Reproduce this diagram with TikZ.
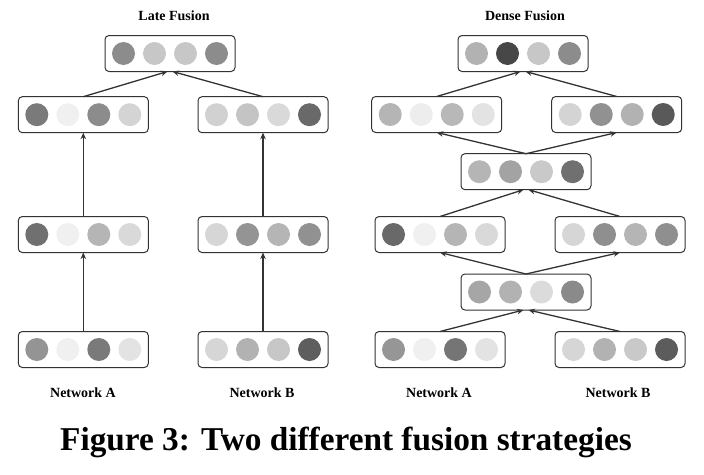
\documentclass[tikz,border=0pt]{standalone}
\usepackage{fontspec}
\setmainfont{Liberation Serif}
\usetikzlibrary{arrows.meta}

\definecolor{edgegray}{HTML}{333333}
% box of four units: name, x, y, four fill levels (percent black)
\newcommand{\featbox}[7]{%
  \node[featrect] (#1) at (#2,#3) {};
  \node[unit,fill=black!#4,xshift=-46.5pt] (#1a) at (#1) {};
  \node[unit,fill=black!#5,xshift=-15.5pt] (#1b) at (#1) {};
  \node[unit,fill=black!#6,xshift=15.5pt] (#1c) at (#1) {};
  \node[unit,fill=black!#7,xshift=46.5pt] (#1d) at (#1) {};
}

\begin{document}
\begin{tikzpicture}[x=1pt,y=-1pt,
  featrect/.style={draw=edgegray,line width=1pt,rounded corners=4pt,
    minimum width=130pt,minimum height=36pt,inner sep=0pt,outer sep=0pt},
  unit/.style={circle,draw=none,minimum size=23pt,inner sep=0pt},
  flow/.style={draw=edgegray,line width=1.3pt,-{Stealth[length=6.5pt,width=5.5pt]}},
  title/.style={font=\bfseries\fontsize{14}{16}\selectfont}]
\useasboundingbox (0,0) rectangle (704,474);
% Titles
\node[title] (tlate) at (174,16) {Late Fusion};
\node[title] (tdense) at (525,16) {Dense Fusion};
% Late fusion boxes
\featbox{ltop}{170}{53.5}{45}{22}{22}{45}
\featbox{lta}{83.3}{114.7}{52}{6}{45}{17}
\featbox{ltb}{263}{114.7}{18}{23}{15}{59}
\featbox{lma}{83.3}{234.5}{56}{6}{29}{15}
\featbox{lmb}{263}{234.5}{16}{42}{29}{43}
\featbox{lba}{83.3}{349.5}{42}{6}{52}{11}
\featbox{lbb}{263}{349.5}{16}{30}{22}{63}
% Dense fusion boxes
\featbox{dtop}{523}{53.5}{30}{72}{22}{45}
\featbox{dta}{436.7}{114.5}{29}{7}{28}{11}
\featbox{dtb}{616.7}{114.5}{17}{43}{30}{65}
\featbox{dfa}{526}{171.7}{29}{36}{21}{56}
\featbox{dma}{440}{234.5}{59}{6}{29}{15}
\featbox{dmb}{620}{234.5}{16}{44}{29}{44}
\featbox{dfb}{526}{292}{35}{30}{14}{46}
\featbox{dba}{440}{349.5}{41}{6}{54}{11}
\featbox{dbb}{620}{349.5}{16}{30}{21}{64}
% Network labels
\node[title] (lnA) at (83,393) {Network A};
\node[title] (lnB) at (262,393) {Network B};
\node[title] (dnA) at (439,393) {Network A};
\node[title] (dnB) at (618,393) {Network B};
% Late fusion arrows
\draw[flow] (lba.north) -- (lma.south);
\draw[flow] (lbb.north) -- (lmb.south);
\draw[flow] (lma.north) -- (lta.south);
\draw[flow] (lmb.north) -- (ltb.south);
\draw[flow] (lta.north) -- ([xshift=-2.5pt]ltop.south);
\draw[flow] (ltb.north) -- ([xshift=2.5pt]ltop.south);
% Dense fusion arrows
\draw[flow] (dba.north) -- ([xshift=-2.5pt]dfb.south);
\draw[flow] (dbb.north) -- ([xshift=2.5pt]dfb.south);
\draw[flow] (dfb.north) -- (dma.south);
\draw[flow] (dfb.north) -- (dmb.south);
\draw[flow] (dma.north) -- ([xshift=-2.5pt]dfa.south);
\draw[flow] (dmb.north) -- ([xshift=2.5pt]dfa.south);
\draw[flow] (dfa.north) -- (dta.south);
\draw[flow] (dfa.north) -- (dtb.south);
\draw[flow] (dta.north) -- ([xshift=-2.5pt]dtop.south);
\draw[flow] (dtb.north) -- ([xshift=2.5pt]dtop.south);
% Caption
\node[anchor=base west,inner sep=0pt,font=\bfseries\fontsize{33.3}{40}\selectfont] (cap) at (60,450) {Figure 3: Two different fusion strategies};
\end{tikzpicture}
\end{document}
